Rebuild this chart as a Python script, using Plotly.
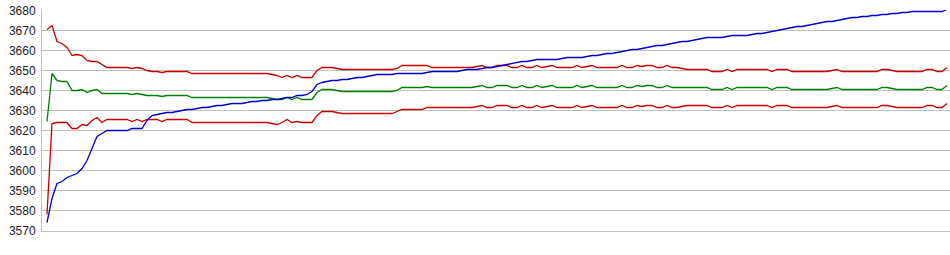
import plotly.graph_objects as go

y_ticks = [3570, 3580, 3590, 3600, 3610, 3620, 3630, 3640, 3650, 3660, 3670, 3680]

blue = [
    3574, 3586, 3593.5, 3594.5, 3596.5, 3597.5, 3598.5, 3601, 3605, 3611,
    3617, 3618.5, 3620, 3620, 3620, 3620, 3620, 3621, 3621, 3621,
    3625, 3627.5, 3628, 3628.5, 3629, 3629, 3629.5, 3630, 3630.5, 3630.5,
    3631, 3631.5, 3631.5, 3632, 3632.5, 3632.5, 3633, 3633.5, 3633.5, 3633.5,
    3634, 3634.5, 3634.5, 3635, 3635, 3635.5, 3635.5, 3636, 3636.5, 3636.5,
    3637.5, 3637.5, 3638, 3639.5, 3643, 3644, 3644.5, 3645, 3645, 3645.5,
    3645.5, 3646, 3646.5, 3646.5, 3647, 3647.5, 3648, 3648, 3648, 3648,
    3648.5, 3648.5, 3648.5, 3648.5, 3648.5, 3648.5, 3649, 3649.5, 3649.5, 3649.5,
    3649.5, 3649.5, 3649.5, 3650, 3650.5, 3650.5, 3650.5, 3651, 3651.5, 3651.5,
    3652, 3652.5, 3653, 3653.5, 3654, 3654.5, 3654.5, 3655, 3655.5, 3655.5,
    3655.5, 3655.5, 3655.5, 3656, 3656.5, 3656.5, 3656.5, 3656.5, 3657, 3657.5,
    3657.5, 3658, 3658.5, 3658.5, 3659, 3659.5, 3660, 3660.5, 3660.5, 3661,
    3661.5, 3662, 3662.5, 3662.5, 3663, 3663.5, 3664, 3664.5, 3664.5, 3665,
    3665.5, 3666, 3666.5, 3666.5, 3666.5, 3666.5, 3667, 3667.5, 3667.5, 3667.5,
    3667.5, 3668, 3668.5, 3668.5, 3669, 3669.5, 3670, 3670.5, 3671, 3671.5,
    3672, 3672, 3672.5, 3673, 3673.5, 3674, 3674.5, 3674.5, 3675, 3675.5,
    3676, 3676.5, 3676.5, 3677, 3677, 3677.5, 3677.5, 3678, 3678, 3678.5,
    3678.5, 3679, 3679, 3679.5, 3679.5, 3679.5, 3679.5, 3679.5, 3679.5, 3679.5,
    3680.5,
]

green = [
    3624.5, 3648.5, 3645, 3644.5, 3644.5, 3640, 3640, 3640.5, 3639, 3640,
    3640.5, 3638.5, 3638.5, 3638.5, 3638.5, 3638.5, 3638.5, 3638, 3638.5, 3638,
    3637.5, 3637.5, 3637.5, 3637, 3637.5, 3637.5, 3637.5, 3637.5, 3637.5, 3636.5,
    3636.5, 3636.5, 3636.5, 3636.5, 3636.5, 3636.5, 3636.5, 3636.5, 3636.5, 3636.5,
    3636.5, 3636.5, 3636.5, 3636.5, 3636.5, 3636, 3635.5, 3635.5, 3636.5, 3635.5,
    3636.5, 3635.5, 3635.5, 3635.5, 3639, 3640.5, 3640.5, 3640.5, 3640, 3639.5,
    3639.5, 3639.5, 3639.5, 3639.5, 3639.5, 3639.5, 3639.5, 3639.5, 3639.5, 3639.5,
    3640, 3641.5, 3641.5, 3641.5, 3641.5, 3641.5, 3642, 3641.5, 3641.5, 3641.5,
    3641.5, 3641.5, 3641.5, 3641.5, 3641.5, 3641.5, 3642, 3642.5, 3641.5, 3641.5,
    3642.5, 3642.5, 3642.5, 3641.5, 3641.5, 3642.5, 3641.5, 3641.5, 3642.5, 3641.5,
    3642, 3642.5, 3641.5, 3641.5, 3641.5, 3641.5, 3642.5, 3641.5, 3642, 3642.5,
    3641.5, 3641.5, 3641.5, 3641.5, 3641.5, 3642.5, 3641.5, 3641.5, 3642.5, 3642,
    3642.5, 3642.5, 3641.5, 3641.5, 3642.5, 3641.5, 3641.5, 3641.5, 3641.5, 3641.5,
    3641.5, 3641.5, 3641.5, 3640.5, 3640.5, 3640.5, 3641.5, 3640.5, 3641.5, 3641.5,
    3641.5, 3641.5, 3641.5, 3641.5, 3641.5, 3640.5, 3641.5, 3641.5, 3641.5, 3640.5,
    3640.5, 3640.5, 3640.5, 3640.5, 3640.5, 3640.5, 3640.5, 3641, 3641.5, 3640.5,
    3640.5, 3640.5, 3640.5, 3640.5, 3640.5, 3640.5, 3640.5, 3641.5, 3641.5, 3641,
    3640.5, 3640.5, 3640.5, 3640.5, 3640.5, 3640.5, 3641.5, 3641.5, 3640.5, 3640.5,
    3642.5,
]

upper = [
    3670.5, 3672.5, 3664.5, 3663.5, 3661.5, 3657.5, 3658, 3657.5, 3655, 3654.5,
    3654.5, 3653, 3651.5, 3651.5, 3651.5, 3651.5, 3651.5, 3651, 3651.5, 3651,
    3650, 3649.5, 3649.5, 3649, 3649.5, 3649.5, 3649.5, 3649.5, 3649.5, 3648.5,
    3648.5, 3648.5, 3648.5, 3648.5, 3648.5, 3648.5, 3648.5, 3648.5, 3648.5, 3648.5,
    3648.5, 3648.5, 3648.5, 3648.5, 3648.5, 3648, 3647.5, 3646.5, 3647.5, 3646.5,
    3647.5, 3646.5, 3646.5, 3646.5, 3650, 3651.5, 3651.5, 3651.5, 3651, 3650.5,
    3650.5, 3650.5, 3650.5, 3650.5, 3650.5, 3650.5, 3650.5, 3650.5, 3650.5, 3650.5,
    3651, 3652.5, 3652.5, 3652.5, 3652.5, 3652.5, 3652.5, 3651.5, 3651.5, 3651.5,
    3651.5, 3651.5, 3651.5, 3651.5, 3651.5, 3651.5, 3652, 3652.5, 3651.5, 3651.5,
    3652.5, 3652.5, 3652.5, 3651.5, 3651.5, 3652.5, 3651.5, 3651.5, 3652.5, 3651.5,
    3652, 3652.5, 3651.5, 3651.5, 3651.5, 3651.5, 3652.5, 3651.5, 3652, 3652.5,
    3651.5, 3651.5, 3651.5, 3651.5, 3651.5, 3652.5, 3651.5, 3651.5, 3652.5, 3652,
    3652.5, 3652.5, 3651.5, 3651.5, 3652.5, 3651.5, 3651.5, 3651, 3650.5, 3650.5,
    3650.5, 3650.5, 3650.5, 3649.5, 3649.5, 3649.5, 3650.5, 3649.5, 3650.5, 3650.5,
    3650.5, 3650.5, 3650.5, 3650.5, 3650.5, 3649.5, 3650.5, 3650.5, 3650.5, 3649.5,
    3649.5, 3649.5, 3649.5, 3649.5, 3649.5, 3649.5, 3649.5, 3650, 3650.5, 3649.5,
    3649.5, 3649.5, 3649.5, 3649.5, 3649.5, 3649.5, 3649.5, 3650.5, 3650.5, 3650,
    3649.5, 3649.5, 3649.5, 3649.5, 3649.5, 3649.5, 3650.5, 3650.5, 3649.5, 3649.5,
    3651.5,
]

lower = [
    3578, 3623.5, 3624, 3624, 3624, 3621, 3621, 3623, 3622.5, 3625,
    3626.5, 3624, 3625.5, 3625.5, 3625.5, 3625.5, 3625.5, 3624.5, 3625.5, 3624.5,
    3625.5, 3625.5, 3625.5, 3624.5, 3625.5, 3625.5, 3625.5, 3625.5, 3625.5, 3624,
    3624, 3624, 3624, 3624, 3624, 3624, 3624, 3624, 3624, 3624,
    3624, 3624, 3624, 3624, 3624, 3623.5, 3623, 3624, 3625.5, 3624,
    3624.5, 3624, 3624, 3624, 3627.5, 3629.5, 3629.5, 3629.5, 3629, 3628.5,
    3628.5, 3628.5, 3628.5, 3628.5, 3628.5, 3628.5, 3628.5, 3628.5, 3628.5, 3628.5,
    3629.5, 3630.5, 3630.5, 3630.5, 3630.5, 3630.5, 3631.5, 3631.5, 3631.5, 3631.5,
    3631.5, 3631.5, 3631.5, 3631.5, 3631.5, 3631.5, 3632, 3632.5, 3631.5, 3631.5,
    3632.5, 3632.5, 3632.5, 3631.5, 3631.5, 3632.5, 3631.5, 3631.5, 3632.5, 3631.5,
    3632, 3632.5, 3631.5, 3631.5, 3631.5, 3631.5, 3632.5, 3631.5, 3632, 3632.5,
    3631.5, 3631.5, 3631.5, 3631.5, 3631.5, 3632.5, 3631.5, 3631.5, 3632.5, 3632,
    3632.5, 3632.5, 3631.5, 3631.5, 3632.5, 3631.5, 3631.5, 3632, 3632.5, 3632.5,
    3632.5, 3632.5, 3632.5, 3631.5, 3631.5, 3631.5, 3632.5, 3631.5, 3632.5, 3632.5,
    3632.5, 3632.5, 3632.5, 3632.5, 3632.5, 3631.5, 3632.5, 3632.5, 3632.5, 3631.5,
    3631.5, 3631.5, 3631.5, 3631.5, 3631.5, 3631.5, 3631.5, 3632, 3632.5, 3631.5,
    3631.5, 3631.5, 3631.5, 3631.5, 3631.5, 3631.5, 3631.5, 3632.5, 3632.5, 3632,
    3631.5, 3631.5, 3631.5, 3631.5, 3631.5, 3631.5, 3632.5, 3632.5, 3631.5, 3631.5,
    3633.5,
]

x = list(range(len(blue)))

fig = go.Figure()
for vals, col in [(green, "#008000"), (upper, "#cc0000"), (lower, "#cc0000"), (blue, "#0000cc")]:
    fig.add_trace(go.Scatter(x=x, y=vals, mode="lines",
                             line=dict(color=col, width=1.3), hoverinfo="skip"))

fig.update_layout(
    width=950, height=255,
    margin=dict(l=42, r=0, t=10, b=24),
    paper_bgcolor="white", plot_bgcolor="white",
    showlegend=False,
    font=dict(family="Liberation Sans, Arial, sans-serif", size=12, color="#222222"),
)
fig.update_xaxes(range=[-1, 180.6], showgrid=False, zeroline=False,
                 showticklabels=False, ticks="",
                 showline=True, linecolor="#c0c0c0", linewidth=1)
fig.update_yaxes(range=[3569.75, 3680.25], tickvals=y_ticks,
                 showgrid=True, gridcolor="#c0c0c0", gridwidth=1,
                 zeroline=False, ticks="", ticklabelstandoff=3,
                 showline=True, linecolor="#c0c0c0", linewidth=1)

fig.write_html("out.html")
